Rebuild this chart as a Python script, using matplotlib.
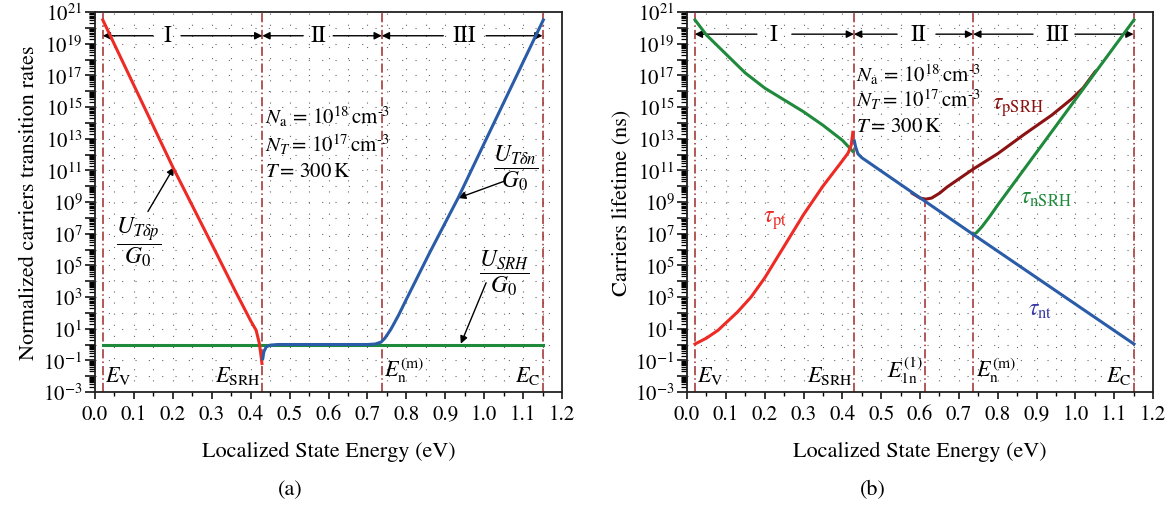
import numpy as np
import matplotlib
matplotlib.use("Agg")
import matplotlib.pyplot as plt
from matplotlib.ticker import FixedLocator, LogLocator, NullFormatter, MultipleLocator

plt.rcParams['font.family'] = ['STIXGeneral', 'DejaVu Serif']
plt.rcParams['mathtext.fontset'] = 'stix'

# ---------------- data (x in eV, y as log10 of value) ----------------
# panel (a)
a_red_x = [0.02, 0.20, 0.307, 0.36, 0.40, 0.414, 0.422, 0.426, 0.429]
a_red_logy = [20.5, 11.2, 6.0, 3.4, 1.5, 0.9, 0.1, -0.6, -1.2]
a_blue_x = [0.431, 0.434, 0.44, 0.45, 0.47, 0.70, 0.72, 0.735, 0.745, 0.76, 0.78, 0.80, 0.86, 0.933, 1.0, 1.152]
a_blue_logy = [-0.9, -0.45, -0.15, -0.04, 0.0, 0.0, 0.03, 0.15, 0.4, 0.95, 1.85, 2.85, 5.8, 9.25, 12.7, 20.5]
a_green_x = [0.02, 1.15]
a_green_logy = [0.0, 0.0]

# panel (b)
b_green1_x = [0.0206, 0.05, 0.10, 0.15, 0.20, 0.25, 0.30, 0.35, 0.40, 0.427]
b_green1_logy = [20.5, 19.55, 18.35, 17.15, 16.2, 15.45, 14.7, 13.85, 12.9, 12.2]
b_green2_x = [0.737, 0.745, 0.76, 0.78, 0.80, 1.151]
b_green2_logy = [6.95, 7.05, 7.45, 8.1, 8.8, 20.5]
b_blue_x = [0.431, 0.434, 0.44, 0.45, 0.737, 1.151]
b_blue_logy = [12.85, 12.5, 12.05, 11.8, 6.95, 0.03]
b_red_x = [0.0206, 0.05, 0.08, 0.13, 0.165, 0.20, 0.25, 0.30, 0.35, 0.40, 0.415, 0.423, 0.427]
b_red_logy = [0.03, 0.4, 0.9, 2.05, 3.0, 4.2, 6.2, 8.2, 10.0, 11.6, 12.1, 12.6, 13.4]
b_dred_x = [0.58, 0.60, 0.615, 0.63, 0.65, 0.67, 0.737, 0.80, 0.87, 0.94, 0.99, 1.02, 1.05]
b_dred_logy = [9.55, 9.25, 9.18, 9.25, 9.55, 9.95, 11.08, 12.05, 13.3, 14.5, 15.5, 16.2, 17.2]

E_V, E_SRH, E_nm, E_C = 0.02, 0.43, 0.737, 1.15
E_1n = 0.613
E_1n_top_logy = 9.2

xticks = [0.0, 0.1, 0.2, 0.3, 0.4, 0.5, 0.6, 0.7, 0.8, 0.9, 1.0, 1.1, 1.2]
ytick_exps = list(range(-3, 22, 2))

RED = '#ee2a24'
BLUE = '#2a5ca8'
GREEN = '#1f8a3c'
DRED = '#8b1212'
VLINE = '#9e2a2a'
FS = 15
LFS = 16
TFS = 16
NFS = 15

fig = plt.figure(figsize=(11.74, 5.06), dpi=100)
axA = fig.add_axes([95/1174, 1-393/506, 467/1174, 380/506])
axB = fig.add_axes([687/1174, 1-393/506, 466/1174, 380/506])


def style(ax):
    ax.set_yscale('log')
    ax.set_xlim(0, 1.2)
    ax.set_ylim(1e-3, 1e21)
    ax.xaxis.set_major_locator(FixedLocator(xticks))
    ax.xaxis.set_minor_locator(MultipleLocator(0.05))
    ax.set_xticklabels([f'{v:.1f}' for v in xticks])
    ax.set_yticks([10.0**e for e in range(-3, 22)])
    ax.set_yticklabels(['$10^{%d}$' % e if e in ytick_exps else '' for e in range(-3, 22)])
    ax.yaxis.set_minor_locator(LogLocator(base=10, subs=np.arange(2, 10), numticks=100))
    ax.yaxis.set_minor_formatter(NullFormatter())
    ax.tick_params(axis='both', which='major', direction='out', length=5, width=1.1,
                   labelsize=FS, top=False, right=False)
    ax.tick_params(axis='y', which='major', length=7, pad=2)
    ax.tick_params(axis='x', which='minor', direction='out', length=3, width=1.0, top=False)
    ax.tick_params(axis='y', which='minor', direction='out', length=4, width=0.9, right=False)
    for s in ax.spines.values():
        s.set_linewidth(1.3)
        s.set_color('#222222')
    # dotted grid
    for xv in np.arange(0.05, 1.2, 0.05):
        ax.axvline(xv, color='#666666', lw=0.8, ls=(0, (1, 9)), zorder=0)
    for e in range(-2, 21):
        ax.axhline(10.0**e, color='#666666', lw=0.8, ls=(0, (1, 11)), zorder=0)
    ax.set_xlabel('Localized State Energy (eV)', fontsize=LFS, labelpad=12)


def vline(ax, x, top=1e21):
    ax.plot([x, x], [1e-3, top], color=VLINE, lw=1.1, ls=(0, (6, 2, 1, 2)), zorder=2)


def region_arrows(ax, y, bounds, gaps, labels, label_x):
    for (b0, b1), (g0, g1), lab, lx in zip(bounds, gaps, labels, label_x):
        ax.annotate('', xy=(b0, y), xytext=(g0, y),
                    arrowprops=dict(arrowstyle='-|>', color='black', lw=1.0,
                                    mutation_scale=11, shrinkA=0, shrinkB=0))
        ax.annotate('', xy=(b1, y), xytext=(g1, y),
                    arrowprops=dict(arrowstyle='-|>', color='black', lw=1.0,
                                    mutation_scale=11, shrinkA=0, shrinkB=0))
        ax.text(lx, y, lab, ha='center', va='center', fontsize=17)


def ly(v):
    return 10.0 ** np.asarray(v)


NA_TXT = r'$N_\mathrm{a}\,{=}\,10^{18}\,\mathrm{cm}^{\text{-}3}$'
NT_TXT = r'$N_T{=}\,10^{17}\,\mathrm{cm}^{\text{-}3}$'
T_TXT = r'$T{=}\,300\,\mathrm{K}$'

# ---------------- panel (a) ----------------
style(axA)
axA.set_ylabel('Normalized carriers transition rates', fontsize=LFS, labelpad=3)
for x in (E_V, E_SRH, E_nm, E_C):
    vline(axA, x)
axA.plot(a_green_x, ly(a_green_logy), color=GREEN, lw=2.2, zorder=3)
axA.plot(a_red_x, ly(a_red_logy), color=RED, lw=2.2, zorder=4)
axA.plot(a_blue_x, ly(a_blue_logy), color=BLUE, lw=2.2, zorder=5)

region_arrows(axA, 10**19.5,
              [(E_V, E_SRH), (E_SRH, E_nm), (E_nm, E_C)],
              [(0.149, 0.221), (0.535, 0.612), (0.895, 1.005)],
              ['I', 'II', 'III'], [0.185, 0.573, 0.95])

axA.text(0.436, 10**14.4, NA_TXT, fontsize=NFS, va='center')
axA.text(0.436, 10**12.65, NT_TXT, fontsize=NFS, va='center')
axA.text(0.436, 10**10.95, T_TXT, fontsize=NFS, va='center')

axA.text(0.113, 10**6.5, r'$\dfrac{U_{T\delta p}}{G_0}$', fontsize=17, ha='center', va='center')
axA.annotate('', xy=(0.203, 10**11.2), xytext=(0.136, 10**8.4),
             arrowprops=dict(arrowstyle='-|>', color='black', lw=1.0, mutation_scale=11,
                             shrinkA=0, shrinkB=0))
axA.text(1.082, 10**11.2, r'$\dfrac{U_{T\delta n}}{G_0}$', fontsize=17, ha='center', va='center')
axA.annotate('', xy=(0.933, 10**9.25), xytext=(1.05, 10**10.3),
             arrowprops=dict(arrowstyle='-|>', color='black', lw=1.0, mutation_scale=11,
                             shrinkA=0, shrinkB=0))
axA.text(1.052, 10**4.6, r'$\dfrac{U_{SRH}}{G_0}$', fontsize=17, ha='center', va='center')
axA.annotate('', xy=(0.94, 10**0.05), xytext=(1.005, 10**3.9),
             arrowprops=dict(arrowstyle='-|>', color='black', lw=1.0, mutation_scale=11,
                             shrinkA=0, shrinkB=0))

axA.text(0.026, 10**-1.9, r'$E_\mathrm{V}$', fontsize=TFS, va='center')
axA.text(0.426, 10**-1.9, r'$E_\mathrm{SRH}$', fontsize=TFS, va='center', ha='right')
axA.text(0.743, 10**-1.6, r'$E_\mathrm{n}^{(\mathrm{m})}$', fontsize=TFS, va='center')
axA.text(1.145, 10**-1.9, r'$E_\mathrm{C}$', fontsize=TFS, va='center', ha='right')

# ---------------- panel (b) ----------------
style(axB)
axB.set_ylabel('Carriers lifetime (ns)', fontsize=LFS, labelpad=3)
for x in (E_V, E_SRH, E_nm, E_C):
    vline(axB, x)
vline(axB, E_1n, top=10**E_1n_top_logy)
axB.plot(b_dred_x, ly(b_dred_logy), color=DRED, lw=2.2, zorder=3)
axB.plot(b_green1_x, ly(b_green1_logy), color=GREEN, lw=2.2, zorder=4)
axB.plot(b_green2_x, ly(b_green2_logy), color=GREEN, lw=2.2, zorder=4)
axB.plot(b_red_x, ly(b_red_logy), color=RED, lw=2.2, zorder=5)
axB.plot(b_blue_x, ly(b_blue_logy), color=BLUE, lw=2.2, zorder=5)

region_arrows(axB, 10**19.6,
              [(E_V, E_SRH), (E_SRH, E_nm), (E_nm, E_C)],
              [(0.18, 0.27), (0.541, 0.641), (0.891, 0.999)],
              ['I', 'II', 'III'], [0.222, 0.595, 0.953])

axB.text(0.436, 10**17.1, NA_TXT, fontsize=NFS, va='center')
axB.text(0.436, 10**15.5, NT_TXT, fontsize=NFS, va='center')
axB.text(0.436, 10**13.8, T_TXT, fontsize=NFS, va='center')

axB.text(0.196, 10**7.9, r'$\tau_\mathrm{pt}$', fontsize=17, color=RED, va='center')
axB.text(0.785, 10**15.0, r'$\tau_\mathrm{pSRH}$', fontsize=17, color=DRED, va='center')
axB.text(0.858, 10**9.3, r'$\tau_\mathrm{nSRH}$', fontsize=17, color=GREEN, va='center')
axB.text(0.878, 10**2.25, r'$\tau_\mathrm{nt}$', fontsize=17, color='#3a3aa8', va='center')

axB.text(0.026, 10**-1.9, r'$E_\mathrm{V}$', fontsize=TFS, va='center')
axB.text(0.426, 10**-1.9, r'$E_\mathrm{SRH}$', fontsize=TFS, va='center', ha='right')
axB.text(0.607, 10**-1.6, r'$E_\mathrm{1n}^{(1)}$', fontsize=TFS, va='center', ha='right')
axB.text(0.743, 10**-1.6, r'$E_\mathrm{n}^{(\mathrm{m})}$', fontsize=TFS, va='center')
axB.text(1.145, 10**-1.9, r'$E_\mathrm{C}$', fontsize=TFS, va='center', ha='right')

fig.text(290/1174, 1-490/506, '(a)', fontsize=LFS, ha='center', va='center')
fig.text(873/1174, 1-490/506, '(b)', fontsize=LFS, ha='center', va='center')

fig.savefig('out.png', dpi=100)
